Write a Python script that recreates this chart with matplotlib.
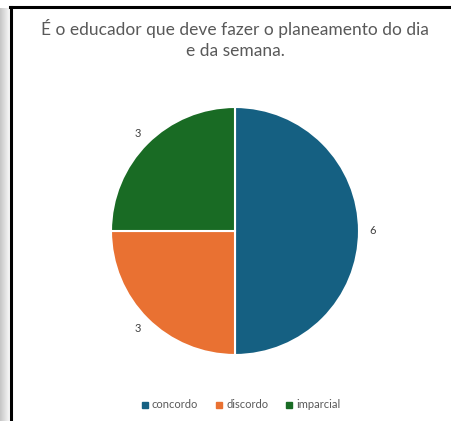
import numpy as np
import matplotlib.pyplot as plt
from matplotlib.patches import Rectangle
from matplotlib.lines import Line2D

# Data
categories = ["concordo", "discordo", "imparcial"]
values = [6, 3, 3]
colors = ["#156082", "#E97132", "#196B24"]
title = "É o educador que deve fazer o planeamento do dia\ne da semana."

plt.rcParams['font.family'] = ['Lato', 'DejaVu Sans']

W, H = 452, 421
fig = plt.figure(figsize=(W / 100, H / 100), dpi=100)

# shadow strip on the left and the black frame
grad = np.linspace(0.78, 0.97, 10)
for i, g in enumerate(grad):
    fig.patches.append(Rectangle((i / W, 0), 1 / W, (H - 8) / H, transform=fig.transFigure,
                                 facecolor=str(g), edgecolor='none'))
fig.lines.append(Line2D([11 / W, 11 / W], [0, (H - 7) / H], transform=fig.transFigure,
                        color='black', lw=2.2))
fig.lines.append(Line2D([10 / W, 1], [(H - 7) / H, (H - 7) / H], transform=fig.transFigure,
                        color='black', lw=2.2))

# pie axes: centre (235, 231), radius 124 px
r = 124
cx, cy = 235, 231
ax = fig.add_axes([(cx - r) / W, (H - cy - r) / H, 2 * r / W, 2 * r / H])
wedges, texts = ax.pie(values, colors=colors, startangle=90, counterclock=False,
                       labels=[str(v) for v in values], labeldistance=1.11,
                       wedgeprops=dict(edgecolor='white', linewidth=1.5),
                       textprops=dict(color='#404040', fontsize=8))
for t in texts:
    t.set_horizontalalignment('center')
    t.set_verticalalignment('center')
ax.set_xlim(-1, 1)
ax.set_ylim(-1, 1)
ax.set_aspect('equal')

fig.text(cx / W, 1 - 39 / H, title, ha='center', va='center', fontsize=12.5,
         color='#595959', linespacing=1.4)

handles = [Line2D([], [], marker='s', linestyle='none', markersize=4.5,
                  markerfacecolor=c, markeredgecolor=c) for c in colors]
fig.legend(handles, categories, loc='center', bbox_to_anchor=(240 / W, 1 - 405 / H),
           ncol=3, frameon=False, fontsize=8, handletextpad=0.1, columnspacing=1.4,
           labelcolor='#595959', handlelength=1.0)

fig.savefig('out.png', dpi=100, facecolor='white')
